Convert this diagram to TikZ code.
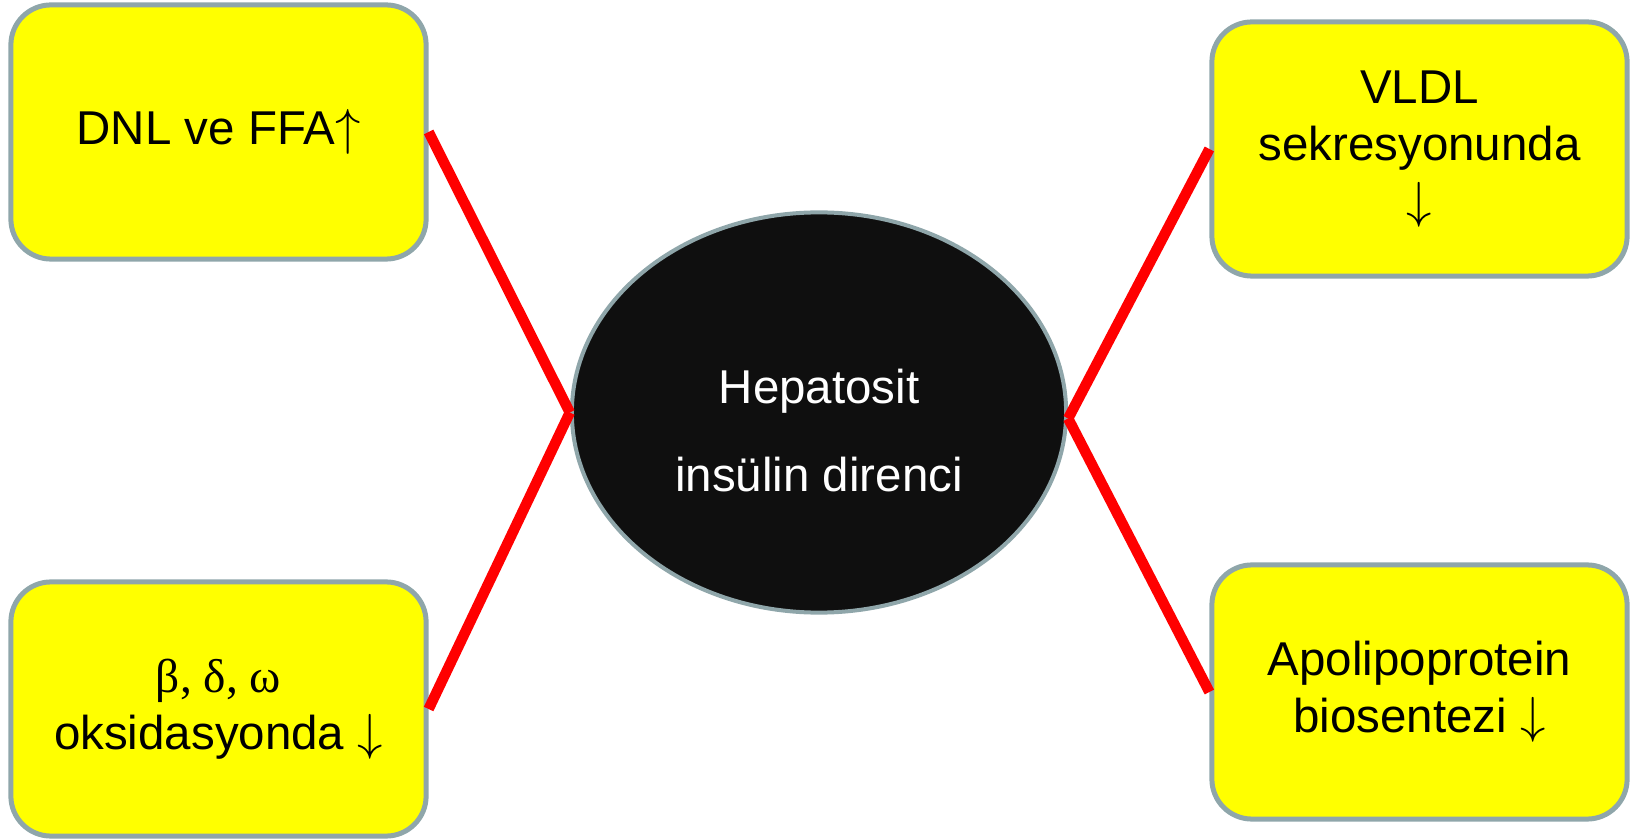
\documentclass[tikz,border=0pt]{standalone}
\usepackage{fontspec}
\setmainfont{Liberation Sans}
\newfontfamily\greekserif{Liberation Serif}
\usetikzlibrary{shapes.geometric}
\definecolor{boxfill}{HTML}{FFFF00}
\definecolor{edgegray}{HTML}{8FA6AA}
\definecolor{coredark}{HTML}{0F0F0F}
\definecolor{linkred}{HTML}{FF0000}
\newcommand{\incr}{\(\uparrow\)}
\newcommand{\decr}{\(\downarrow\)}
\begin{document}
\begin{tikzpicture}[x=0.01cm,y=-0.01cm,
  effect/.style={draw=edgegray, line width=0.05cm, fill=boxfill,
    rounded corners=0.4cm, minimum width=4.15cm, minimum height=2.54cm,
    align=center, inner sep=0pt, font=\fontsize{13.5}{16.2}\selectfont},
  core/.style={ellipse, draw=edgegray, line width=0.04cm, fill=coredark,
    minimum width=4.94cm, minimum height=4.0cm, inner sep=0pt,
    text=white, align=center, font=\fontsize{13.5}{25}\selectfont},
  link/.style={draw=linkred, line width=0.105cm}]
\useasboundingbox (0,0) rectangle (1636,840);

% central ellipse
\node[core] (ell) at (819,412.5) {\rule{0pt}{20pt}Hepatosit\\insülin direnci};

% four effect boxes
\node[effect] (tl) at (218.5,132) {DNL ve FFA\incr};
\node[effect] (bl) at (218.5,709) {{\greekserif β, δ, ω}\\oksidasyonda \decr};
\node[effect] (tr) at (1419.5,149) {VLDL\\sekresyonunda\\\decr};
\node[effect] (br) at (1419.5,692) {Apolipoprotein\\biosentezi \decr};

% red connectors
\draw[link] (tl.east) -- (ell.west);
\draw[link] (bl.east) -- (ell.west);
\draw[link] (tr.west) -- ([yshift=-0.06cm]ell.east);
\draw[link] (br.west) -- ([yshift=-0.06cm]ell.east);
\end{tikzpicture}
\end{document}
